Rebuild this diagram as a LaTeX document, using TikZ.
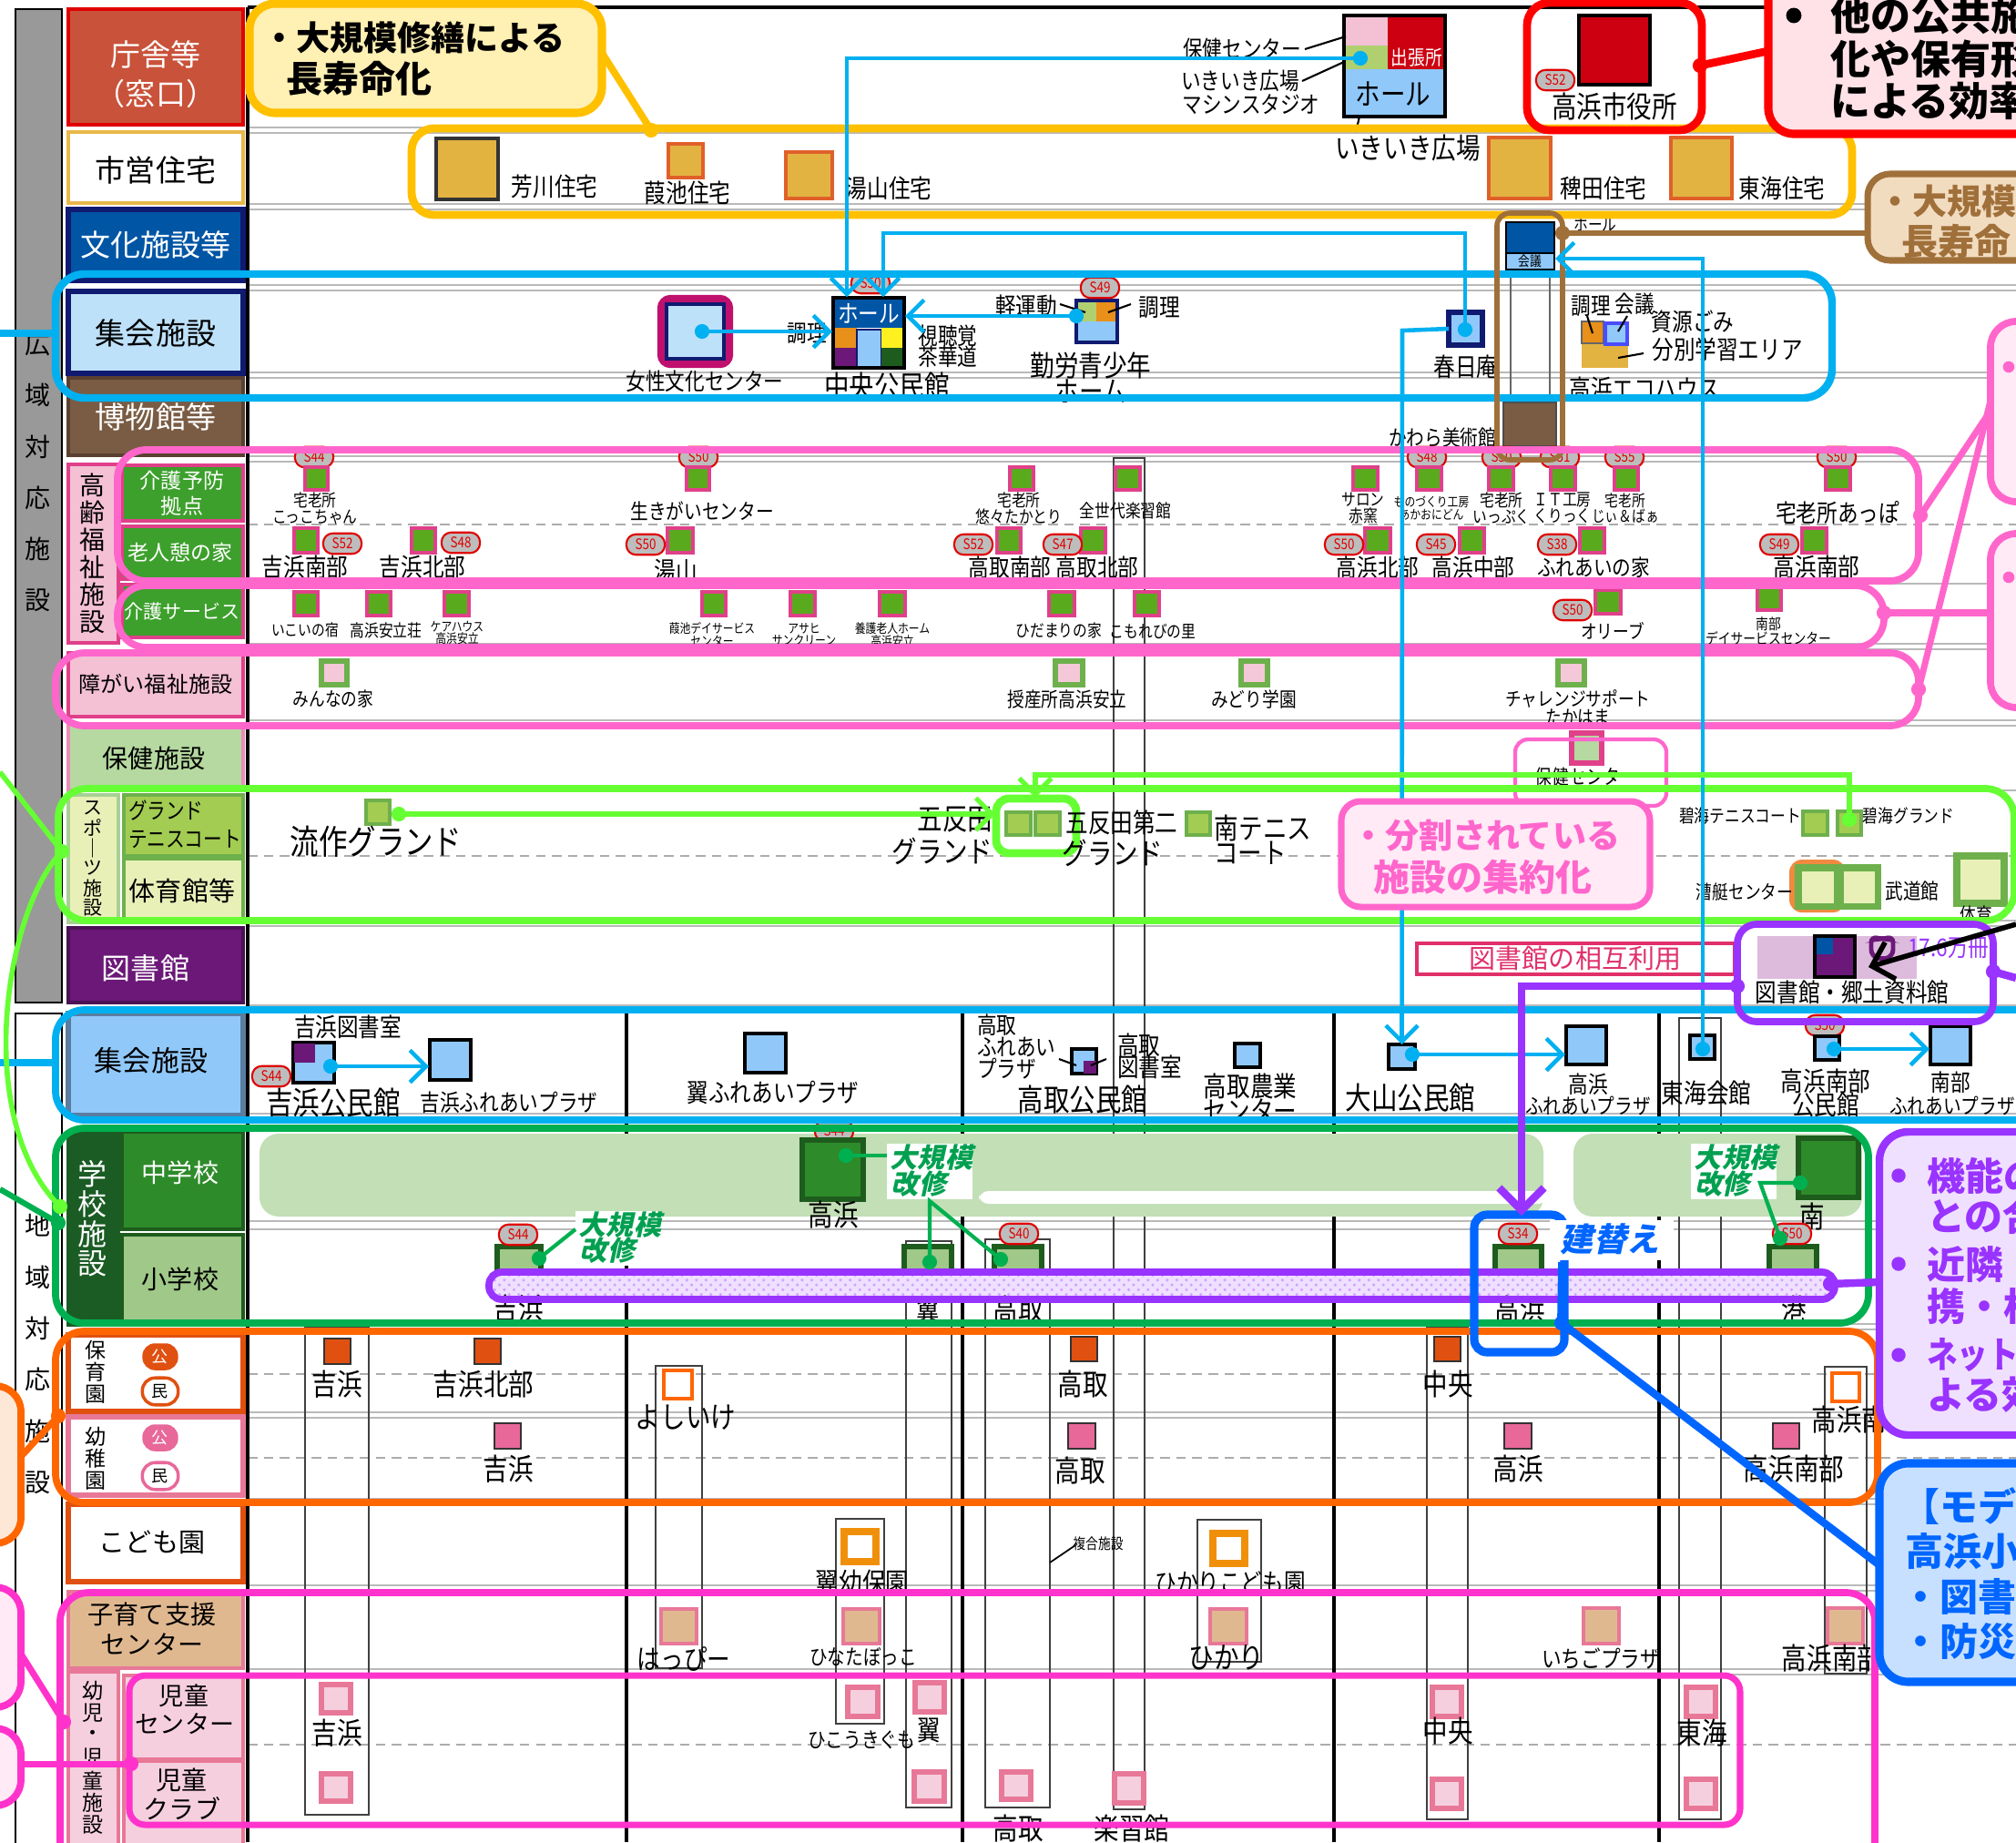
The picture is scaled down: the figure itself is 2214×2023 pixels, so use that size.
\documentclass[tikz,border=0pt]{standalone}
\usepackage{fontspec}
\usepackage{graphicx}
\setmainfont{Noto Sans CJK JP}
\newfontfamily\condf{Noto Sans CJK JP}[FakeStretch=0.84]
\newfontfamily\jpsl{Noto Sans CJK JP}[FakeSlant=0.22]
\usetikzlibrary{arrows.meta,patterns}
\definecolor{cTyo}{HTML}{C9523A}
\definecolor{cRed}{HTML}{E00000}
\definecolor{cCityRed}{HTML}{CC0010}
\definecolor{cGold}{HTML}{E8B84A}
\definecolor{cYel}{HTML}{FFC000}
\definecolor{cYelF}{HTML}{FFF0B3}
\definecolor{cHouse}{HTML}{E3B342}
\definecolor{cHouseB}{HTML}{E0602A}
\definecolor{cBun}{HTML}{0055A5}
\definecolor{cNavy}{HTML}{101A70}
\definecolor{cShuH}{HTML}{BEE1FA}
\definecolor{cLB}{HTML}{90C8FA}
\definecolor{cBrown}{HTML}{7A5C44}
\definecolor{cBrownD}{HTML}{5A4030}
\definecolor{cBrownL}{HTML}{A0703A}
\definecolor{cBrownF}{HTML}{F2DCC0}
\definecolor{cPkH}{HTML}{F4C0D4}
\definecolor{cPkB}{HTML}{E0408A}
\definecolor{cKG}{HTML}{3DA02C}
\definecolor{cSqG}{HTML}{5AAA1E}
\definecolor{cHoken}{HTML}{B5D9A0}
\definecolor{cSpPale}{HTML}{E8F0B8}
\definecolor{cSpG}{HTML}{A2CC52}
\definecolor{cSpB}{HTML}{6DB04C}
\definecolor{cLib}{HTML}{6B1878}
\definecolor{cLocB}{HTML}{5A7DA0}
\definecolor{cSchD}{HTML}{1A5C24}
\definecolor{cSchM}{HTML}{2E8B2A}
\definecolor{cSchL}{HTML}{A0C888}
\definecolor{cSchB}{HTML}{1E5C1E}
\definecolor{cBand}{HTML}{C2DFB6}
\definecolor{cOrg}{HTML}{FF6600}
\definecolor{cNurs}{HTML}{E05010}
\definecolor{cKind}{HTML}{E8689A}
\definecolor{cKoB}{HTML}{F0900A}
\definecolor{cTan}{HTML}{E0B890}
\definecolor{cJido}{HTML}{F6CFDE}
\definecolor{cJidoB}{HTML}{E87898}
\definecolor{cCyan}{HTML}{00B0F0}
\definecolor{cPink}{HTML}{FF66CC}
\definecolor{cMag}{HTML}{FF33CC}
\definecolor{cMagD}{HTML}{C0106E}
\definecolor{cLime}{HTML}{66FF33}
\definecolor{cGrp}{HTML}{00B050}
\definecolor{cPurp}{HTML}{9933FF}
\definecolor{cBlue}{HTML}{0066FF}
\definecolor{cPkF}{HTML}{FFEAF6}
\definecolor{cRedF}{HTML}{FFE2E8}
\definecolor{cPurF}{HTML}{F0E0FF}
\definecolor{cBlueF}{HTML}{C8E0FF}
\definecolor{cOrgF}{HTML}{FDE8D8}
\definecolor{cBadge}{HTML}{BDBDBD}
\definecolor{cGrayBar}{HTML}{999999}
\definecolor{cLibL}{HTML}{DDBBDD}
\definecolor{cGTxt}{HTML}{00A050}
\definecolor{cCrim}{HTML}{E0306A}
\definecolor{cOrgM}{HTML}{E8901A}
\definecolor{cYlw}{HTML}{FFF020}
\definecolor{cLgr}{HTML}{B0D070}
\definecolor{cDis}{HTML}{F4C8D8}
\definecolor{cRowOr}{HTML}{F08A40}
\newcommand\fsz[1]{\fontsize{\fpeval{(#1)*0.2845}pt}{\fpeval{(#1)*0.2845*1.12}pt}\selectfont}
\newcommand\fszc[1]{\fontsize{\fpeval{(#1)*0.2845*1.17}pt}{\fpeval{(#1)*0.2845*1.12}pt}\selectfont}
\newcommand\R[6][]{\node[inner sep=0pt,outer sep=0pt,minimum width={(#5-#3)*0.2845pt},minimum height={(#6-#4)*0.2845pt},#1] (#2) at ({(#3+#5)/2},{(#4+#6)/2}) {};}
\newcommand\T[5][]{\node[inner sep=0pt,outer sep=0pt,font=\condf\fszc{#4},#1] (#2) at (#3) {#5};}
\newcommand\TN[5][]{\node[inner sep=0pt,outer sep=0pt,font=\fsz{#4},#1] (#2) at (#3) {#5};}
\newcommand\BG[3]{\node[badge] (#1) at (#2) {#3};}
\newcommand\DT[3]{\coordinate (#2) at (#3);\fill[#1] (#2) circle[radius=2.3pt];}
\begin{document}
\begin{tikzpicture}[x=0.01cm,y=-0.01cm,
  sqw/.style={fill=cSqG,draw=cPkB,line width=0.9pt},
  sqd/.style={fill=cDis,draw=cSpB,line width=1.6pt},
  sqh/.style={fill=cHouse,draw=cHouseB,line width=0.9pt},
  sqs/.style={fill=cSpG,draw=cSpB,line width=1pt},
  sqsp/.style={fill=cSpPale,draw=cSpB,line width=2pt},
  sql/.style={fill=cLB,draw=black,line width=0.9pt},
  sqe/.style={fill=cSchL,draw=cSchB,line width=1.5pt},
  sqn/.style={fill=cNurs,draw=black!80,line width=0.8pt},
  sqnm/.style={fill=white,draw=cOrg,line width=1.4pt},
  sqk/.style={fill=cKind,draw=black!80,line width=0.8pt},
  sqko/.style={fill=white,draw=cKoB,line width=2.2pt},
  sqt/.style={fill=cTan,draw=cJidoB,line width=1.4pt},
  sqj/.style={fill=cJido,draw=cJidoB,line width=1.6pt},
  grp/.style={rounded corners=7pt,line width=2.2pt},
  con/.style={cCyan,line width=1.3pt},
  arr/.style={-{Straight Barb[length=5pt,width=10pt]}},
  badge/.style={draw=cRed,fill=cBadge,rounded corners=3pt,line width=0.6pt,minimum width=12pt,minimum height=6.4pt,inner sep=0pt,text=cRed,font=\condf\fsz{16}},
  gtx/.style={text=cGTxt,font=\jpsl\fsz{30}\bfseries}
]
\useasboundingbox (0,0) rectangle (2214,2023);
\fill[white] (0,0) rectangle (2214,2023);

% ===== grid =====
\foreach \yy in {140,146,224,230,313,319,409,415,501,507,641,707,713,791,797,868,1011,1017,1104,1110,1223,1229,1341,1350,1454,1460,1551,1557,1646,1652,1741,1747,1833,1839}
  \draw[gray!55,line width=0.5pt] (272,\yy) -- (2214,\yy);
\foreach \yy in {576,940,1509,1601,1916}
  \draw[gray!65,dash pattern=on 3pt off 2pt,line width=0.6pt] (272,\yy) -- (2214,\yy);
\draw[line width=0.9pt] (272,8) -- (2214,8);
\draw[line width=0.9pt] (272,8) -- (272,2023);
\foreach \xx in {688,1057,1465,1822} \draw[line width=1.1pt] (\xx,1110) -- (\xx,2023);
\foreach \a/\b/\c/\d in {335/1457/405/1993,720/1500/771/1832,918/1668/971/1893,995/1363/1045/1985,1082/1361/1153/1985,1223/503/1257/1987,1315/1669/1385/1825,1567/1458/1612/1998,1844/1118/1890/1998,2004/1501/2050/1838}
  \draw[black!75,line width=0.5pt] (\a,\b) rectangle (\c,\d);
\draw[black!60,line width=0.5pt] (1659,296) -- (1659,442) (1702,296) -- (1702,442);

% ===== header column =====
\fill[cGrayBar] (17,10) rectangle (68,1101);
\draw[line width=0.6pt] (17,10) rectangle (68,1101);
\foreach \c [count=\i] in {広,域,対,応,施,設} \node[font=\fsz{28}] (hk\i) at (42,{378+(\i-1)*56.2}) {\c};
\draw[line width=0.6pt] (17,1113) rectangle (68,2040);
\foreach \c [count=\i] in {地,域,対,応,施,設} \node[font=\fsz{28}] (ch\i) at (42,{1346+(\i-1)*56.4}) {\c};

\R[fill=cTyo,draw=cRed,line width=1.3pt]{hTyo}{75}{10}{267}{137}
\TN[white]{hTyo1}{171,60}{33}{庁舎等}
\TN[white]{hTyo2}{171,103}{33}{（窓口）}
\R[fill=white,draw=cGold,line width=1.3pt]{hJu}{75}{145}{267}{223}
\TN{hJu1}{171,187}{33}{市営住宅}
\R[fill=cBun,draw=cNavy,line width=1.5pt]{hBun}{75}{230}{267}{308}
\TN[white]{hBun1}{171,269}{33}{文化施設等}
\R[fill=cShuH,draw=cNavy,line width=1.5pt]{hShu}{75}{320}{267}{410}
\TN{hShu1}{171,366}{33}{集会施設}
\R[fill=cBrown,draw=cBrownD,line width=1pt]{hHak}{75}{415}{267}{500}
\TN[white]{hHak1}{171,458}{33}{博物館等}
\R[fill=cPkH,draw=cPkB,line width=1.2pt]{hKor}{75}{510}{130}{706}
\foreach \c [count=\i] in {高,齢,福,祉,施,設} \node[font=\fsz{28}] (kv\i) at (102,{533+(\i-1)*30}) {\c};
\R[fill=cKG,draw=cPkB,line width=1.2pt]{hKy}{134}{511}{267}{572}
\TN[white]{hKy1}{200,528}{23}{介護予防}
\TN[white]{hKy2}{200,556}{23}{拠点}
\R[fill=cKG,draw=cPkB,line width=1.2pt]{hRo}{134}{578}{267}{636}
\TN[white]{hRo1}{198,607}{23}{老人憩の家}
\R[fill=cKG,draw=cPkB,line width=1.2pt]{hKs}{134}{642}{267}{700}
\TN[white]{hKs1}{200,672}{21}{介護サービス}
\R[fill=cPkH,draw=cPkB,line width=1.3pt]{hSho}{75}{717}{267}{787}
\TN{hSho1}{171,751}{24}{障がい福祉施設}
\R[fill=cHoken,draw=cPkB!60,line width=1pt]{hHok}{75}{795}{267}{868}
\TN{hHok1}{169,833}{28}{保健施設}
\R[fill=cSpPale,draw=cSpB!60,line width=1pt]{hSp}{75}{873}{130}{1013}
\foreach \c [count=\i] in {ス,ポ,｜,ツ,施,設} \node[font=\fsz{21}] (sv\i) at (102,{887+(\i-1)*22}) {\c};
\R[fill=cSpG,draw=cSpB,line width=1pt]{hGr}{136}{873}{267}{940}
\T[anchor=west]{hGr1}{141,890}{21}{グランド}
\T[anchor=west]{hGr2}{141,922}{21}{テニスコート}
\R[fill=cSpPale,draw=cSpB,line width=1pt]{hTa}{136}{943}{267}{1013}
\TN{hTa1}{200,978}{29}{体育館等}
\R[fill=cLib,draw=cLib!70!black,line width=1.3pt]{hLib}{75}{1019}{267}{1101}
\TN[white]{hLib1}{160,1063}{32}{図書館}
\R[fill=cLB,draw=cLocB,line width=1.5pt]{hLoc}{75}{1113}{267}{1225}
\TN{hLoc1}{166,1165}{31}{集会施設}
\R[fill=cSchD,draw=cSchD,line width=1pt]{hSch}{75}{1243}{130}{1455}
\foreach \c [count=\i] in {学,校,施,設} \node[font=\fsz{32},text=white] (scv\i) at (102,{1289+(\i-1)*33}) {\c};
\R[fill=cSchM,draw=cSchB,line width=1.2pt]{hJh}{134}{1243}{267}{1350}
\TN[white]{hJh1}{198,1288}{28}{中学校}
\R[fill=cSchL,draw=cSchB,line width=1.2pt]{hEl}{134}{1356}{267}{1455}
\TN{hEl1}{198,1405}{28}{小学校}
\R[fill=white,draw=cNurs,line width=1.5pt]{hHo}{75}{1466}{267}{1550}
\foreach \c [count=\i] in {保,育,園} \node[font=\fsz{23}] (hov\i) at (105,{1483+(\i-1)*24}) {\c};
\node[fill=cNurs,text=white,rounded corners=4pt,minimum width=11.2pt,minimum height=8.4pt,inner sep=0pt,font=\fsz{18}] (hoK) at (176,1490) {公};
\node[fill=white,draw=cNurs,line width=1pt,rounded corners=4pt,minimum width=11.2pt,minimum height=8.4pt,inner sep=0pt,font=\fsz{18}] (hoM) at (176,1528) {民};
\R[fill=white,draw=cJidoB,line width=1.5pt]{hYo}{75}{1556}{267}{1642}
\foreach \c [count=\i] in {幼,稚,園} \node[font=\fsz{23}] (yov\i) at (105,{1578+(\i-1)*24}) {\c};
\node[fill=cKind,text=white,rounded corners=4pt,minimum width=11.2pt,minimum height=8.4pt,inner sep=0pt,font=\fsz{18}] (yoK) at (176,1579) {公};
\node[fill=white,draw=cKind,line width=1pt,rounded corners=4pt,minimum width=11.2pt,minimum height=8.4pt,inner sep=0pt,font=\fsz{18}] (yoM) at (176,1621) {民};
\R[fill=white,draw=cNurs,line width=1.6pt]{hKo}{75}{1652}{267}{1737}
\TN{hKo1}{167,1694}{29}{こども園}
\R[fill=cTan,draw=cJidoB,line width=1.3pt]{hKos}{75}{1748}{267}{1832}
\TN{hKos1}{167,1773}{28}{子育て支援}
\TN{hKos2}{167,1806}{28}{センター}
\R[fill=cJido,draw=cJidoB,line width=1.3pt]{hJi}{75}{1836}{130}{2040}
\foreach \c [count=\i] in {幼,児,・,児,童,施,設} \node[font=\fsz{23}] (jiv\i) at (102,{1857+(\i-1)*24.5}) {\c};
\R[fill=cJido,draw=cJidoB,line width=1.3pt]{hJc}{136}{1840}{267}{1932}
\TN{hJc1}{202,1862}{27}{児童}
\TN{hJc2}{203,1893}{27}{センター}
\R[fill=cJido,draw=cJidoB,line width=1.3pt]{hJk}{136}{1934}{267}{2040}
\TN{hJk1}{200,1955}{28}{児童}
\TN{hJk2}{200,1986}{28}{クラブ}

% ===== school band =====
\fill[cBand,rounded corners=6pt] (285,1245) rectangle (1695,1336);
\fill[cBand,rounded corners=6pt] (1728,1245) rectangle (2045,1336);
\fill[white,rounded corners=3pt] (1075,1308) rectangle (1700,1322);

% ===== 庁舎 row =====
\R[fill=cPkH]{kc1}{1476}{17}{1524}{50}
\R[fill=cCityRed]{kc2}{1524}{17}{1587}{76}
\R[fill=cLgr]{kc3}{1476}{50}{1524}{76}
\R[fill=cLB]{kc4}{1476}{76}{1587}{128}
\draw[line width=1pt] (1476,17) rectangle (1587,128);
\T[white]{kc2t}{1556,63}{19}{出張所}
\T{kc4t}{1530,103}{28}{ホール}
\T{lbk1}{1364,54}{22}{保健センター}
\T{lbk2}{1362,89}{22}{いきいき広場}
\T{lbk3}{1374,115}{22}{マシンスタジオ}
\draw[line width=0.6pt] (1433,54) -- (1478,40);
\draw[line width=0.6pt] (1430,89) -- (1476,68);
\T{lbk4}{1546,163}{27}{いきいき広場}
\draw[line width=0.6pt] (1493,128) -- (1489,145);
\R[fill=cCityRed,draw=black,line width=1.2pt]{city}{1734}{17}{1812}{93}
\BG{bcity}{1708,88}{S52}
\T{cityt}{1773,117}{28}{高浜市役所}

% ===== 市営住宅 =====
\R[sqh,draw=black!80]{hs1}{479}{152}{547}{219}
\T{hs1t}{609,205}{24}{芳川住宅}
\R[sqh]{hs2}{734}{158}{772}{195}
\T{hs2t}{755,212}{24}{葭池住宅}
\R[sqh]{hs3}{863}{167}{914}{218}
\T{hs3t}{976,207}{24}{湯山住宅}
\R[sqh]{hs4}{1635}{151}{1703}{218}
\T{hs4t}{1761,207}{24}{稗田住宅}
\R[sqh]{hs5}{1835}{151}{1902}{218}
\T{hs5t}{1957,207}{24}{東海住宅}

% ===== 文化施設 / 博物館 =====
\R[fill=cBun,draw=black,line width=0.8pt]{hall}{1654}{244}{1707}{278}
\R[fill=cLB,draw=black,line width=0.8pt]{kaigi}{1654}{278}{1707}{296}
\T{kaigit}{1680,287}{13}{会議}
\T{hallt}{1752,246}{16}{ホール}
\R[fill=cBrown,draw=black!70,line width=0.8pt]{kawara}{1651}{442}{1709}{490}
\T{kawarat}{1584,481}{20}{かわら美術館}

% ===== 集会施設 (wide) =====
\draw[cMagD,line width=2.4pt,rounded corners=3pt] (726,328) rectangle (801,400);
\R[fill=cShuH,draw=cNavy,line width=1.4pt]{jyosei}{732}{334}{795}{394}
\T{jyt}{774,419}{22}{女性文化センター}
\R[fill=cBun]{ch1}{915}{327}{993}{360}
\T[white]{ch1t}{954,344}{23}{ホール}
\R[fill=cOrgM]{ch2}{915}{360}{941}{382}
\R[fill=cLib]{ch3}{915}{382}{941}{404}
\R[fill=cLB,draw=cNavy,line width=0.6pt]{ch4}{941}{362}{968}{404}
\R[fill=cYlw]{ch5}{968}{360}{993}{382}
\R[fill=cSchB]{ch6}{968}{382}{993}{404}
\draw[line width=1pt] (915,327) rectangle (993,404);
\BG{bch}{956,311}{S50}
\T{cht}{974,424}{28}{中央公民館}
\T{chl1}{886,366}{22}{調理}
\T{chl2}{1041,369}{22}{視聴覚}
\T{chl3}{1041,392}{22}{茶華道}
\R[fill=cLgr]{kr1}{1182}{330}{1204}{353}
\R[fill=cOrgM]{kr2}{1204}{330}{1227}{353}
\R[fill=cLB]{kr3}{1182}{353}{1227}{376}
\draw[cNavy,line width=1.2pt] (1182,330) rectangle (1227,376);
\BG{bkr}{1208,316}{S49}
\T{krt1}{1198,401}{27}{勤労青少年}
\T{krt2}{1198,430}{27}{ホーム}
\T{krl1}{1127,336}{23}{軽運動}
\T{krl2}{1273,338}{23}{調理}
\draw[line width=0.6pt] (1164,334) -- (1192,343) (1242,334) -- (1217,343);
\R[fill=cLB,draw=cNavy,line width=1.6pt]{kasuga}{1591}{343}{1628}{379}
\T{kasugat}{1610,403}{24}{春日庵}
\R[fill=cHouse]{eco1}{1737}{377}{1788}{404}
\R[fill=cOrgM,draw=black!60,line width=0.5pt]{eco2}{1737}{353}{1761}{377}
\R[fill=cLB,draw=blue!70,line width=1pt]{eco3}{1763}{355}{1787}{378}
\T{ecl1}{1747,336}{22}{調理}
\T{ecl2}{1795,334}{22}{会議}
\T{ecl3}{1859,353}{23}{資源ごみ}
\T{ecl4}{1897,384}{24}{分別学習エリア}
\T{ecot}{1806,427}{24}{高浜エコハウス}
\draw[line width=0.6pt] (1743,347) -- (1749,366) (1787,347) -- (1777,364) (1805,388) -- (1777,393);

% ===== 高齢福祉 =====
\BG{bw1}{345,502}{S44}\BG{bw2}{767,502}{S50}\BG{bw3}{1567,502}{S48}\BG{bw4}{1649,502}{S50}\BG{bw5}{1713,502}{S51}\BG{bw6}{1784,502}{S55}\BG{bw7}{2017,502}{S50}
\R[sqw]{w1}{335}{513}{360}{538}\T[align=center]{w1t}{346,558}{16}{宅老所\\こっこちゃん}
\R[sqw]{w2}{754}{513}{779}{538}\T{w2t}{771,561}{20}{生きがいセンター}
\R[sqw]{w3}{1109}{513}{1135}{538}\T[align=center]{w3t}{1119,558}{16}{宅老所\\悠々たかとり}
\R[sqw]{w4}{1225}{513}{1252}{538}\T{w4t}{1236,561}{17}{全世代楽習館}
\R[sqw]{w5}{1486}{513}{1513}{538}\T[align=center]{w5t}{1497,558}{16}{サロン\\赤窯}
\R[sqw]{w6}{1556}{513}{1583}{538}\T[align=center]{w6t}{1572,558}{12}{ものづくり工房\\あかおにどん}
\R[sqw]{w7}{1635}{513}{1662}{538}\T[align=center]{w7t}{1649,558}{16}{宅老所\\いっぷく}
\R[sqw]{w8}{1703}{513}{1730}{538}\T[align=center]{w8t}{1716,558}{16}{ＩＴ工房\\くりっく}
\R[sqw]{w9}{1773}{513}{1799}{538}\T[align=center]{w9t}{1785,558}{15}{宅老所\\じぃ＆ばぁ}
\R[sqw]{w10}{2005}{513}{2032}{538}\T{w10t}{2018,563}{23}{宅老所あっぽ}
\R[sqw]{r1}{323}{580}{349}{607}\BG{br1}{376,597}{S52}\T{r1t}{335,623}{24}{吉浜南部}
\R[sqw]{r2}{452}{580}{478}{607}\BG{br2}{506,596}{S48}\T{r2t}{464,623}{24}{吉浜北部}
\R[sqw]{r3}{733}{580}{761}{607}\BG{br3}{709,598}{S50}\T{r3t}{742,627}{24}{湯山}
\R[sqw]{r4}{1095}{580}{1121}{607}\BG{br4}{1069,598}{S52}\T{r4t}{1109,623}{23}{高取南部}
\R[sqw]{r5}{1187}{580}{1214}{607}\BG{br5}{1167,598}{S47}\T{r5t}{1205,623}{23}{高取北部}
\R[sqw]{r6}{1499}{580}{1527}{607}\BG{br6}{1476,598}{S50}\T{r6t}{1513,623}{23}{高浜北部}
\R[sqw]{r7}{1603}{580}{1630}{607}\BG{br7}{1577,598}{S45}\T{r7t}{1618,623}{23}{高浜中部}
\R[sqw]{r8}{1735}{580}{1762}{607}\BG{br8}{1710,598}{S38}\T{r8t}{1750,623}{21}{ふれあいの家}
\R[sqw]{r9}{1979}{580}{2006}{607}\BG{br9}{1954,598}{S49}\T{r9t}{1995,623}{24}{高浜南部}
\R[sqw]{s1}{323}{650}{349}{676}\T{s1t}{335,692}{15}{いこいの宿}
\R[sqw]{s2}{403}{650}{429}{676}\T{s2t}{424,692}{16}{高浜安立荘}
\R[sqw]{s3}{488}{650}{515}{676}\T[align=center]{s3t}{502,695}{12}{ケアハウス\\高浜安立}
\R[sqw]{s4}{771}{650}{797}{676}\T[align=center]{s4t}{782,697}{12}{葭池デイサービス\\センター}
\R[sqw]{s5}{868}{650}{895}{676}\T[align=center]{s5t}{883,697}{12}{アサヒ\\サンクリーン}
\R[sqw]{s6}{966}{650}{994}{676}\T[align=center]{s6t}{980,697}{12}{養護老人ホーム\\高浜安立}
\R[sqw]{s7}{1152}{650}{1180}{676}\T{s7t}{1163,692}{16}{ひだまりの家}
\R[sqw]{s8}{1246}{650}{1273}{676}\T{s8t}{1266,693}{16}{こもれびの里}
\R[sqw]{s9}{1752}{648}{1780}{674}\BG{bs9}{1727,670}{S50}\T{s9t}{1771,693}{18}{オリーブ}
\R[sqw]{s10}{1930}{645}{1956}{670}\T[align=center]{s10t}{1942,693}{14}{南部\\デイサービスセンター}

% ===== 障がい / 保健 =====
\R[sqd]{d1}{353}{726}{381}{752}\T{d1t}{366,768}{18}{みんなの家}
\R[sqd]{d2}{1159}{726}{1189}{752}\T{d2t}{1172,768}{19}{授産所高浜安立}
\R[sqd]{d3}{1363}{726}{1392}{752}\T{d3t}{1377,768}{19}{みどり学園}
\R[sqd]{d4}{1711}{726}{1740}{752}\T[align=center]{d4t}{1733,777}{18}{チャレンジサポート\\たかはま}
\R[fill=cHoken,draw=cPkB,line width=1.5pt]{hoken}{1726}{805}{1759}{838}
\T{hokent}{1742,853}{19}{保健センター}
\draw[cPink,line width=1.2pt,rounded corners=4pt] (1664,812) rectangle (1830,885);

% ===== スポーツ =====
\R[sqs]{ryu}{402}{879}{428}{905}\T{ryut}{413,924}{32}{流作グランド}
\R[sqs]{go1}{1105}{892}{1132}{917}
\R[sqs]{go2}{1137}{892}{1164}{917}
\draw[cLime,line width=2.5pt,rounded corners=4pt] (1094,877) rectangle (1182,937);
\T{go1t}{1049,900}{28}{五反田}
\T{go1u}{1035,935}{28}{グランド}
\T{go2t}{1232,903}{25}{五反田第二}
\T{go2u}{1222,937}{28}{グランド}
\R[sqs]{mt}{1303}{892}{1329}{917}
\T{mtt}{1387,909}{27}{南テニス}
\T{mtu}{1373,937}{27}{コート}
\R[sqs]{ht}{1980}{891}{2007}{917}\T{htt}{1911,896}{17}{碧海テニスコート}
\R[sqs]{hg}{2018}{891}{2044}{917}\T{hgt}{2096,896}{17}{碧海グランド}
\fill[cRowOr,rounded corners=4pt] (1965,944) rectangle (2027,1002);
\R[sqsp]{sotei}{1975}{953}{2017}{995}
\R[sqsp]{budo}{2021}{953}{2062}{995}
\T{sotet}{1916,979}{18}{漕艇センター}
\T{budot}{2100,979}{20}{武道館}
\R[sqsp,line width=2.4pt]{taiiku}{2149}{940}{2201}{992}
\T{taiikut}{2170,1004}{18}{体育}

% ===== 図書館 row =====
\R[fill=white,draw=cCrim,line width=1pt]{sogo}{1556}{1036}{1905}{1070}
\TN[text=cCrim]{sogot}{1730,1053}{29}{図書館の相互利用}
\fill[cLibL] (1930,1028) rectangle (2105,1075);
\R[fill=cLib,draw=black,line width=1pt]{lib}{1993}{1028}{2037}{1073}
\fill[cBun] (1995,1030) rectangle (2013,1048);
\draw[cLib,line width=1.4pt,rounded corners=2pt] (2055,1028) -- (2055,1050) -- (2067,1054) -- (2079,1050) -- (2079,1028) -- (2067,1032) -- cycle;
\T[text=cPurp]{libn}{2140,1041}{23}{17.6万冊}
\T{libt}{2034,1090}{24}{図書館・郷土資料館}

% ===== 集会施設 (local) =====
\T{yzt}{382,1128}{24}{吉浜図書室}
\R[sql]{yhk}{322}{1145}{367}{1189}
\fill[cLib] (322.5,1145.5) rectangle (346,1167);
\BG{byhk}{298,1182}{S44}
\T{yhkt}{366,1211}{30}{吉浜公民館}
\R[sql]{yfp}{472}{1142}{517}{1186}\T{yfpt}{559,1211}{22}{吉浜ふれあいプラザ}
\R[sql]{tfp}{818}{1135}{863}{1178}\T{tfpt}{849,1200}{24}{翼ふれあいプラザ}
\R[sql]{tkk}{1177}{1152}{1204}{1179}
\fill[cLib] (1190,1165) rectangle (1203.5,1178.5);
\T[anchor=west]{tkl1}{1073,1126}{22}{高取}
\T[anchor=west]{tkl2}{1073,1150}{22}{ふれあい}
\T[anchor=west]{tkl3}{1073,1174}{22}{プラザ}
\T[anchor=west]{tkl4}{1227,1148}{24}{高取}
\T[anchor=west]{tkl5}{1227,1172}{24}{図書室}
\draw[line width=0.6pt] (1163,1163) -- (1182,1170) (1215,1163) -- (1198,1170);
\T{tkkt}{1189,1208}{29}{高取公民館}
\R[sql]{tno}{1356}{1146}{1384}{1172}
\T{tnot}{1373,1193}{26}{高取農業}
\T{tnou}{1373,1220}{26}{センター}
\R[sql]{oyk}{1525}{1147}{1554}{1174}\T{oykt}{1549,1206}{29}{大山公民館}
\R[sql]{tafp}{1720}{1127}{1764}{1169}
\T{tafpt}{1744,1191}{22}{高浜}
\T{tafpu}{1744,1215}{20}{ふれあいプラザ}
\R[sql]{tok}{1856}{1137}{1883}{1163}\T{tokt}{1874,1200}{25}{東海会館}
\BG{bnk}{2004,1126}{S50}
\R[sql]{nk}{1993}{1138}{2020}{1164}
\T{nkt}{2005,1187}{25}{高浜南部}
\T{nku}{2005,1213}{25}{公民館}
\R[sql]{nfp}{2120}{1127}{2164}{1169}
\T{nfpt}{2142,1189}{22}{南部}
\T{nfpu}{2144,1215}{20}{ふれあいプラザ}

% ===== 学校 =====
\BG{bjh1}{916,1242}{S44}
\R[fill=cSchM,draw=cSchB,line width=1.5pt]{jh1}{881}{1252}{948}{1317}
\T{jh1t}{915,1334}{28}{高浜}
\R[fill=cSchM,draw=cSchB,line width=1.5pt]{jh2}{1975}{1250}{2041}{1315}
\T{jh2t}{1990,1336}{28}{南}
\R[sqe]{el1}{546}{1369}{594}{1418}\BG{bel1}{569,1356}{S44}
\R[sqe]{el2}{993}{1369}{1045}{1418}
\R[sqe]{el3}{1092}{1369}{1144}{1418}\BG{bel3}{1119,1355}{S40}
\R[sqe]{el4}{1642}{1369}{1693}{1418}\BG{bel4}{1667,1355}{S34}
\R[sqe]{el5}{1943}{1369}{1995}{1418}\BG{bel5}{1968,1355}{S50}
\fill[cPurF] (540,1399) rectangle (2012,1425);
\fill[pattern=crosshatch dots,pattern color=cPurp!45] (540,1399) rectangle (2012,1425);
\T{el1t}{569,1437}{28}{吉浜}
\T{el2t}{1019,1438}{26}{翼}
\T{el3t}{1118,1438}{28}{高取}
\T{el4t}{1669,1438}{28}{高浜}
\T{el5t}{1970,1438}{28}{港}
% 大規模改修 labels
\fill[white] (974,1256) rectangle (1068,1317);
\TN[gtx]{dk1a}{1023,1271}{30}{大規模}
\TN[gtx]{dk1b}{1009,1300}{30}{改修}
\fill[white] (632,1330) rectangle (722,1390);
\TN[gtx]{dk2a}{681,1345}{30}{大規模}
\TN[gtx]{dk2b}{667,1373}{30}{改修}
\fill[white] (1857,1256) rectangle (1951,1317);
\TN[gtx]{dk3a}{1906,1271}{30}{大規模}
\TN[gtx]{dk3b}{1891,1300}{30}{改修}

% ===== 保育園 / 幼稚園 =====
\R[sqn]{n1}{356}{1470}{385}{1498}\T{n1t}{370,1520}{28}{吉浜}
\R[sqn]{n2}{521}{1470}{550}{1498}\T{n2t}{531,1520}{28}{吉浜北部}
\R[sqnm]{n3}{729}{1505}{760}{1536}\T{n3t}{753,1557}{28}{よしいけ}
\R[sqn]{n4}{1176}{1468}{1205}{1495}\T{n4t}{1189,1520}{28}{高取}
\R[sqn]{n5}{1575}{1468}{1604}{1495}\T{n5t}{1590,1520}{28}{中央}
\R[sqnm]{n6}{2012}{1508}{2042}{1539}\T{n6t}{2031,1559}{28}{高浜南}
\R[sqk]{k1}{543}{1563}{572}{1591}\T{k1t}{558,1613}{28}{吉浜}
\R[sqk]{k2}{1173}{1563}{1203}{1591}\T{k2t}{1186,1615}{28}{高取}
\R[sqk]{k3}{1652}{1563}{1682}{1591}\T{k3t}{1667,1613}{28}{高浜}
\R[sqk]{k4}{1947}{1563}{1976}{1591}\T{k4t}{1970,1613}{28}{高浜南部}

% ===== こども園 / 子育て / 児童 =====
\R[sqko]{ko1}{927}{1682}{962}{1715}\T{ko1t}{947,1738}{26}{翼幼保園}
\R[sqko]{ko2}{1332}{1684}{1367}{1717}\T{ko2t}{1351,1738}{24}{ひかりこども園}
\T{fukt}{1206,1695}{14}{複合施設}
\draw[line width=0.5pt] (1153,1716) -- (1181,1697);
\R[sqt]{c1}{726}{1767}{765}{1805}\T{c1t}{751,1822}{26}{はっぴー}
\R[sqt]{c2}{926}{1767}{966}{1805}\T{c2t}{948,1820}{20}{ひなたぼっこ}
\R[sqt]{c3}{1329}{1767}{1369}{1805}\T{c3t}{1347,1820}{28}{ひかり}
\R[sqt]{c4}{1739}{1766}{1778}{1805}\T{c4t}{1758,1821}{22}{いちごプラザ}
\R[sqt]{c5}{2007}{1766}{2046}{1805}\T{c5t}{2012,1821}{28}{高浜南部}
\R[sqj]{j1}{353}{1850}{385}{1881}\T{j1t}{370,1903}{28}{吉浜}
\R[sqj]{j2}{931}{1853}{964}{1885}\T{j2t}{946,1911}{20}{ひこうきぐも}
\R[sqj]{j3}{1005}{1848}{1037}{1880}\T{j3t}{1020,1900}{26}{翼}
\R[sqj]{j4}{1573}{1853}{1605}{1885}\T{j4t}{1590,1901}{28}{中央}
\R[sqj]{j5}{1852}{1853}{1884}{1885}\T{j5t}{1869,1903}{28}{東海}
\R[sqj]{q1}{353}{1948}{385}{1978}
\R[sqj]{q2}{1004}{1946}{1037}{1978}
\R[sqj]{q3}{1100}{1946}{1132}{1976}\T{q3t}{1118,2008}{28}{高取}
\R[sqj]{q4}{1224}{1948}{1256}{1980}\T{q4t}{1243,2008}{28}{楽習館}
\R[sqj]{q5}{1573}{1954}{1605}{1986}
\R[sqj]{q6}{1852}{1954}{1884}{1986}

% ===== group frames =====
\draw[grp,cYel,line width=2.5pt] (452,141) rectangle (2034,236);
\draw[grp,red,line width=2.5pt] (1677,3) rectangle (1869,143);
\draw[grp,cCyan,line width=2.4pt,rounded corners=9pt] (61,301) rectangle (2012,437);
\draw[cBrownL,line width=1.6pt,rounded corners=4pt] (1644,234) rectangle (1716,505);
\draw[grp,cPink,rounded corners=9pt] (129,494) rectangle (2107,638);
\draw[grp,cPink,rounded corners=9pt] (129,643) rectangle (2069,711);
\draw[grp,cPink,rounded corners=9pt] (61,717) rectangle (2107,797);
\draw[grp,cLime,rounded corners=9pt] (64,866) rectangle (2212,1011);
\draw[grp,cCyan,rounded corners=9pt] (61,1109) rectangle (2280,1230);
\draw[grp,cGrp,rounded corners=9pt] (61,1239) rectangle (2052,1453);
\draw[cPurp,line width=2.2pt,rounded corners=4pt] (537,1397) rectangle (2015,1427);
\draw[grp,cOrg,rounded corners=9pt] (61,1462) rectangle (2062,1650);
\draw[grp,cMag,rounded corners=9pt] (66,1749) rectangle (2059,2080);
\draw[cMag,line width=2pt,rounded corners=5pt] (142,1840) rectangle (1911,2004);
\draw[grp,cPurp,rounded corners=6pt] (1908,1015) rectangle (2189,1122);
\draw[cBlue,line width=2.6pt,rounded corners=4pt] (1619,1334) rectangle (1718,1485);

% ===== connectors =====
\DT{cCyan}{kcd}{1494,64}
\draw[con,arr] (kcd) -- (930,64) -- (930,326);
\DT{cCyan}{kad}{1609,362}
\draw[con,arr] (kad) -- (1609,256) -- (970,256) -- (970,326);
\DT{cCyan}{krd}{1182,347}
\draw[con,arr] (krd) -- (994,347);
\DT{cCyan}{jyd}{771,364}
\draw[con,arr] (jyd) -- (914,364);
\draw[con,arr] (kasuga.west) -- (1540,363) -- (oyk.north);
\DT{cCyan}{tkd}{1870,1152}
\draw[con,arr] (tkd) -- (1870,284) -- (1708,284);
\DT{cCyan}{oyd}{1551,1158}
\draw[con,arr] (oyd) -- (1719,1158);
\DT{cCyan}{yhd}{363,1171}
\draw[con,arr] (yhd) -- (471,1171);
\DT{cCyan}{nkd}{2014,1152}
\draw[con,arr] (nkd) -- (2119,1152);
\draw[cCyan,line width=2.2pt] (0,366) -- (61,366);
\draw[cCyan,line width=2.2pt] (0,1167) -- (61,1167);
\DT{cLime}{ryd}{438,894}
\draw[cLime,line width=1.5pt,arr] (ryd) -- (1093,894);
\DT{cLime}{hgd}{2031,900}
\draw[cLime,line width=1.5pt,arr] (hgd) -- (2031,851) -- (1137,851) -- (1137,876);
\DT{cPurp}{lbd}{1908,1083}
\draw[cPurp,line width=2.4pt,-{Straight Barb[length=7pt,width=14pt]}] (lbd) -- (1671,1083) -- (1671,1335);
\DT{cPurp}{lbd2}{2189,1067}
\draw[cPurp,line width=2.4pt] (lbd2) -- (2214,1074);
\DT{cPurp}{bnd}{2010,1410}
\draw[cPurp,line width=2.4pt] (bnd) -- (2064,1408);
\draw[black,line width=1.6pt,-{Straight Barb[length=6pt,width=12pt]}] (2214,1015) -- (2052,1062);
\DT{cBrownL}{brd}{1716,256}
\draw[cBrownL,line width=1.5pt] (brd) -- (2051,256);
\DT{red}{rdd}{1867,72}
\draw[red,line width=2.5pt] (rdd) -- (1942,56);
\DT{cYel}{yld}{715,143}
\draw[cYel,line width=2.2pt] (661,58) -- (yld);
\DT{cGrp}{jhd1}{929,1269}
\draw[cGrp,line width=1.2pt] (jhd1) -- (974,1269);
\DT{cGrp}{eld2}{1021,1386}
\DT{cGrp}{eld3}{1099,1383}
\draw[cGrp,line width=1.2pt] (eld2) -- (1021,1319) -- (eld3);
\DT{cGrp}{eld1}{592,1382}
\draw[cGrp,line width=1.2pt] (eld1) -- (632,1350);
\DT{cGrp}{jhd2}{1977,1299}
\DT{cGrp}{eld5}{1955,1360}
\draw[cGrp,line width=1.2pt] (jhd2) -- (1933,1299) -- (eld5);
\fill[white] (1702,1340) rectangle (1838,1384);
\TN[text=cBlue,font=\jpsl\fsz{36}\bfseries]{tate}{1768,1361}{36}{建替え}
\DT{cBlue}{tbd}{1715,1453}
\draw[cBlue,line width=2.8pt] (1716,1386) -- (tbd);
\draw[cBlue,line width=2.4pt] (tbd) -- (2067,1721);
% pink dots & links
\DT{cPink}{pk1}{2109,566}
\DT{cPink}{pk2}{2069,673}
\DT{cPink}{pk3}{2107,757}
\draw[cPink,line width=2pt] (pk1) -- (2190,445);
\draw[cPink,line width=2pt] (pk3) -- (2196,400);
\draw[cPink,line width=2pt] (pk2) -- (2214,673);
% left links
\DT{cLime}{lmd}{68,935}
\draw[cLime,line width=1.6pt] (0,848) -- (lmd);
\draw[cLime,line width=1.6pt] (lmd) .. controls (5,1000) and (-30,1230) .. (66,1325);
\DT{cLime}{lmd2}{66,1325}
\DT{cGrp}{gsd}{64,1343}
\draw[cGrp,line width=1.8pt] (0,1306) -- (gsd);
\DT{cOrg}{ord}{64,1555}
\draw[cOrg,line width=2pt] (ord) -- (19,1604);
\DT{cMag}{mgd1}{70,1891}
\draw[cMag,line width=2pt] (mgd1) -- (19,1810);
\DT{cMag}{mgd2}{144,1937}
\draw[cMag,line width=2pt] (mgd2) -- (19,1937);

% ===== callouts =====
\draw[cYel,fill=cYelF,line width=2.6pt,rounded corners=8pt] (274,4) rectangle (661,124);
\TN[anchor=west,font=\fsz{37}\bfseries]{yc1}{288,41}{37}{・大規模修繕による}
\TN[anchor=west,font=\fsz{40}\bfseries]{yc2}{314,86}{40}{長寿命化}
\draw[red,fill=cRedF,line width=2.6pt,rounded corners=8pt] (1942,-40) rectangle (2300,147);
\fill[black] (1970,17) circle[radius=2.4pt];
\TN[anchor=west,font=\fsz{44}\bfseries]{rc1}{2010,17}{44}{他の公共施}
\TN[anchor=west,font=\fsz{44}\bfseries]{rc2}{2010,65}{44}{化や保有形}
\TN[anchor=west,font=\fsz{44}\bfseries]{rc3}{2010,111}{44}{による効率}
\draw[cBrownL,fill=cBrownF,line width=2pt,rounded corners=7pt] (2051,191) rectangle (2300,286);
\TN[anchor=west,text=cBrownL,font=\fsz{38}\bfseries]{bc1}{2062,221}{38}{・大規模}
\TN[anchor=west,text=cBrownL,font=\fsz{40}\bfseries]{bc2}{2088,265}{40}{長寿命}
\draw[cPink,fill=cPkF,line width=2.2pt,rounded corners=8pt] (2186,353) rectangle (2300,551);
\draw[cPink,fill=cPkF,line width=2.2pt,rounded corners=8pt] (2186,586) rectangle (2300,777);
\fill[cPink] (2206,403) circle[radius=1.8pt];
\fill[cPink] (2206,634) circle[radius=1.8pt];
\draw[cPink,fill=cPkF,line width=2pt,rounded corners=6pt] (1473,880) rectangle (1812,996);
\TN[anchor=west,text=cPink,font=\fsz{37}\bfseries]{bk1}{1484,918}{37}{・分割されている}
\TN[anchor=west,text=cPink,font=\fsz{40}\bfseries]{bk2}{1508,963}{40}{施設の集約化}
\draw[cPurp,fill=cPurF,line width=2.4pt,rounded corners=9pt] (2064,1243) rectangle (2300,1576);
\foreach \yy in {1291,1388,1488} \fill[cPurp] (2085,\yy) circle[radius=2.2pt];
\TN[anchor=west,text=cPurp,font=\fsz{42}\bfseries]{pc1}{2116,1291}{42}{機能の}
\TN[anchor=west,text=cPurp,font=\fsz{42}\bfseries]{pc2}{2116,1336}{42}{との合}
\TN[anchor=west,text=cPurp,font=\fsz{42}\bfseries]{pc3}{2116,1389}{42}{近隣}
\TN[anchor=west,text=cPurp,font=\fsz{42}\bfseries]{pc4}{2116,1435}{42}{携・相}
\TN[anchor=west,text=cPurp,font=\condf\fsz{40}\bfseries]{pc5}{2116,1488}{40}{ネットワ}
\TN[anchor=west,text=cPurp,font=\fsz{42}\bfseries]{pc6}{2116,1532}{42}{よる効}
\draw[cBlue,fill=cBlueF,line width=2.6pt,rounded corners=9pt] (2064,1607) rectangle (2300,1847);
\TN[anchor=west,text=cBlue,font=\fsz{42}\bfseries]{mc1}{2088,1654}{42}{【モデル}
\TN[anchor=west,text=cBlue,font=\fsz{42}\bfseries]{mc2}{2092,1704}{42}{高浜小}
\TN[anchor=west,text=cBlue,font=\fsz{42}\bfseries]{mc3}{2088,1753}{42}{・図書館}
\TN[anchor=west,text=cBlue,font=\fsz{42}\bfseries]{mc4}{2088,1803}{42}{・防災拠}
\draw[cOrg,fill=cOrgF,line width=2.2pt,rounded corners=8pt] (-40,1522) rectangle (23,1695);
\draw[cMag,fill=cPkF,line width=2.2pt,rounded corners=8pt] (-40,1743) rectangle (23,1875);
\draw[cMag,fill=cPkF,line width=2.2pt,rounded corners=8pt] (-40,1898) rectangle (23,1983);
\end{tikzpicture}
\end{document}
